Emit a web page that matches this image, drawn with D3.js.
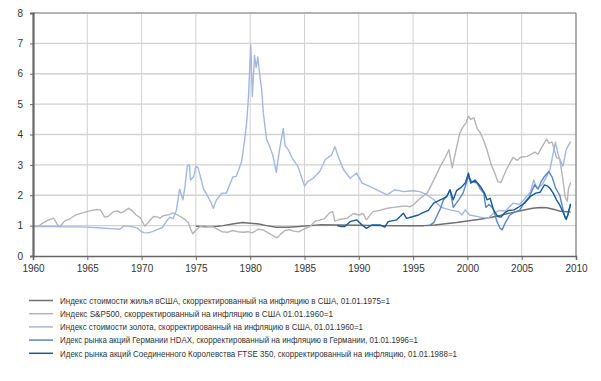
<!DOCTYPE html>
<html><head><meta charset="utf-8">
<script src="https://cdn.jsdelivr.net/npm/d3@7"></script>
<style>body{margin:0;background:#fff}svg{display:block}text{font-family:"Liberation Sans",Arial,sans-serif}</style>
</head><body><svg id="c" width="601" height="381"></svg>
<script>
const yTicks=[0,1,2,3,4,5,6,7,8];
const xTicks=[1960,1965,1970,1975,1980,1985,1990,1995,2000,2005,2010];
const seriesNames=[
"Индекс стоимости жилья вСША, скорректированный на инфляцию в США,  01.01.1975=1",
"Индекс S&P500, скорректированный на инфляцию в США   01.01.1960=1",
"Индекс стоимости золота, скорректированный на инфляцию  в США, 01.01.1960=1",
"Идекс рынка акций Германии HDAX, скорректированный на инфляцию в Германии,  01.01.1996=1",
"Идекс рынка акций Соединенного Королевства FTSE 350, скорректированный на инфляцию,  01.01.1988=1"];
const seriesColors=["#6f6f6f","#b5b5b5","#a3b8de","#5d86c4","#165a9a"];
const housing=[[1975.0,0.98],[1976.0,0.96],[1977.0,0.98],[1977.5,1.0],[1978.5,1.06],[1979.3,1.1],[1980.0,1.08],[1980.8,1.05],[1981.5,1.0],[1982.4,0.95],[1983.5,0.95],[1984.5,0.97],[1985.5,1.0],[1986.5,1.03],[1988.0,1.02],[1990.0,1.01],[1992.0,1.0],[1994.0,1.0],[1996.0,1.0],[1997.0,1.02],[1998.0,1.06],[1999.0,1.1],[2000.0,1.15],[2001.0,1.2],[2002.0,1.26],[2003.0,1.33],[2004.0,1.42],[2005.0,1.5],[2006.0,1.57],[2006.7,1.6],[2007.3,1.59],[2008.0,1.53],[2008.6,1.47],[2009.5,1.45]];
const sp500=[[1960.0,0.97],[1960.5,0.98],[1960.9,1.08],[1961.4,1.18],[1961.9,1.25],[1962.3,1.0],[1962.5,0.97],[1962.9,1.15],[1963.4,1.22],[1963.7,1.3],[1964.0,1.36],[1964.6,1.42],[1965.0,1.46],[1965.4,1.5],[1965.9,1.53],[1966.2,1.52],[1966.6,1.28],[1966.9,1.3],[1967.4,1.46],[1967.8,1.48],[1968.1,1.42],[1968.4,1.47],[1968.8,1.57],[1969.1,1.5],[1969.5,1.35],[1969.9,1.25],[1970.3,0.98],[1970.6,1.1],[1971.1,1.3],[1971.5,1.28],[1971.7,1.24],[1972.0,1.33],[1972.5,1.36],[1972.9,1.42],[1973.3,1.35],[1973.7,1.27],[1974.0,1.2],[1974.3,1.1],[1974.5,0.9],[1974.7,0.73],[1975.0,0.85],[1975.3,0.95],[1975.7,1.0],[1976.2,0.97],[1976.6,0.96],[1977.0,0.88],[1977.4,0.8],[1977.9,0.78],[1978.4,0.84],[1978.8,0.8],[1979.4,0.78],[1979.8,0.8],[1980.2,0.76],[1980.7,0.88],[1981.2,0.86],[1981.7,0.75],[1982.2,0.65],[1982.5,0.6],[1982.8,0.72],[1983.2,0.84],[1983.6,0.87],[1984.0,0.82],[1984.5,0.8],[1984.9,0.88],[1985.5,0.97],[1986.0,1.15],[1986.4,1.18],[1986.8,1.22],[1987.3,1.42],[1987.6,1.46],[1987.8,1.15],[1988.2,1.2],[1988.9,1.24],[1989.5,1.4],[1990.0,1.35],[1990.4,1.4],[1990.7,1.19],[1991.3,1.46],[1991.9,1.5],[1992.6,1.57],[1993.2,1.6],[1993.8,1.63],[1994.3,1.65],[1994.7,1.62],[1995.0,1.68],[1995.5,1.85],[1996.0,2.0],[1996.3,2.07],[1996.9,2.5],[1997.5,2.95],[1997.9,3.2],[1998.3,3.5],[1998.6,2.9],[1998.9,3.4],[1999.3,4.05],[1999.6,4.25],[1999.9,4.4],[2000.1,4.6],[2000.3,4.5],[2000.6,4.55],[2000.9,4.2],[2001.2,4.05],[2001.5,3.8],[2001.8,3.5],[2002.2,3.0],[2002.5,2.75],[2002.8,2.45],[2003.1,2.42],[2003.3,2.6],[2003.6,2.85],[2003.9,3.05],[2004.2,3.25],[2004.6,3.15],[2004.9,3.25],[2005.5,3.28],[2005.9,3.35],[2006.2,3.42],[2006.5,3.35],[2006.8,3.55],[2007.3,3.85],[2007.5,3.72],[2007.8,3.75],[2008.0,3.5],[2008.2,3.25],[2008.5,3.2],[2008.8,2.5],[2009.0,1.95],[2009.2,1.8],[2009.3,2.2],[2009.5,2.42]];
const gold=[[1960.0,0.97],[1962.0,0.97],[1963.0,0.96],[1964.0,0.96],[1965.0,0.95],[1966.0,0.93],[1967.1,0.9],[1968.0,0.88],[1968.3,0.97],[1968.5,0.99],[1969.2,0.96],[1969.6,0.92],[1969.9,0.82],[1970.2,0.77],[1970.6,0.76],[1971.0,0.8],[1971.4,0.87],[1971.9,0.93],[1972.3,1.15],[1972.6,1.28],[1972.9,1.23],[1973.2,1.5],[1973.5,2.2],[1973.8,1.85],[1974.0,2.3],[1974.2,2.95],[1974.4,3.0],[1974.5,2.5],[1974.8,2.62],[1975.0,2.95],[1975.2,2.9],[1975.5,2.5],[1975.7,2.2],[1976.1,1.96],[1976.4,1.75],[1976.6,1.57],[1976.9,1.85],[1977.4,2.07],[1977.8,2.07],[1978.1,2.34],[1978.4,2.6],[1978.7,2.62],[1978.9,2.8],[1979.2,3.1],[1979.5,3.85],[1979.7,4.5],[1979.85,5.3],[1980.05,6.95],[1980.2,5.25],[1980.4,6.6],[1980.55,6.2],[1980.7,6.55],[1980.9,5.9],[1981.05,5.5],[1981.2,4.75],[1981.5,3.85],[1981.8,3.6],[1982.1,3.3],[1982.4,2.75],[1982.7,3.5],[1983.05,4.2],[1983.2,3.65],[1983.5,3.5],[1983.9,3.2],[1984.4,2.95],[1985.0,2.3],[1985.3,2.45],[1985.8,2.56],[1986.4,2.78],[1986.9,3.17],[1987.5,3.33],[1987.8,3.6],[1988.1,3.28],[1988.6,2.84],[1989.2,2.56],[1989.8,2.73],[1990.3,2.4],[1991.0,2.29],[1992.0,2.12],[1992.6,2.01],[1993.3,2.18],[1994.1,2.12],[1995.0,2.15],[1995.6,2.12],[1996.3,2.01],[1996.9,1.85],[1997.5,1.63],[1997.9,1.57],[1998.4,1.52],[1999.2,1.46],[1999.5,1.35],[1999.8,1.52],[2000.2,1.35],[2001.2,1.28],[2001.9,1.24],[2002.4,1.41],[2003.0,1.5],[2003.5,1.48],[2004.2,1.74],[2004.8,1.7],[2005.2,1.85],[2005.8,2.1],[2006.1,2.5],[2006.4,2.23],[2006.9,2.35],[2007.3,2.62],[2007.6,2.84],[2008.1,3.75],[2008.4,3.28],[2008.8,2.95],[2009.1,3.5],[2009.5,3.77]];
const hdax=[[1996.5,1.0],[1996.9,1.1],[1997.3,1.4],[1997.5,1.55],[1997.8,1.85],[1998.1,1.96],[1998.4,2.18],[1998.7,1.6],[1998.9,1.7],[1999.2,1.85],[1999.6,2.07],[2000.1,2.62],[2000.4,2.45],[2000.9,2.4],[2001.2,2.2],[2001.5,2.07],[2001.7,1.6],[2002.0,1.7],[2002.4,1.55],[2002.7,1.15],[2003.0,0.92],[2003.2,0.86],[2003.5,1.1],[2003.9,1.35],[2004.4,1.45],[2004.8,1.5],[2005.2,1.74],[2005.7,1.95],[2006.2,2.35],[2006.5,2.2],[2006.8,2.45],[2007.1,2.62],[2007.5,2.78],[2007.8,2.6],[2008.1,2.25],[2008.5,2.0],[2008.8,1.55],[2009.0,1.25],[2009.2,1.3],[2009.5,1.7]];
const ftse=[[1988.0,1.0],[1988.4,0.97],[1988.7,0.97],[1989.2,1.13],[1989.8,1.19],[1990.3,1.02],[1990.7,0.91],[1991.2,1.02],[1992.0,1.02],[1992.4,0.95],[1992.7,1.13],[1993.5,1.19],[1994.1,1.41],[1994.4,1.24],[1995.0,1.3],[1995.5,1.35],[1995.8,1.41],[1996.4,1.5],[1996.9,1.74],[1997.5,1.85],[1997.8,1.9],[1998.1,1.96],[1998.4,2.18],[1998.7,1.85],[1999.0,2.15],[1999.4,2.25],[1999.8,2.4],[2000.1,2.73],[2000.3,2.4],[2000.7,2.5],[2001.2,2.29],[2001.6,2.05],[2001.8,1.85],[2002.1,1.9],[2002.4,1.52],[2002.8,1.3],[2003.1,1.28],[2003.4,1.41],[2003.8,1.5],[2004.3,1.52],[2004.8,1.63],[2005.3,1.75],[2005.8,1.96],[2006.3,2.07],[2006.7,2.1],[2007.1,2.34],[2007.4,2.3],[2007.6,2.23],[2007.9,2.07],[2008.2,1.85],[2008.5,1.68],[2008.8,1.45],[2009.1,1.2],[2009.25,1.35],[2009.5,1.72]];
const allSeries=[housing,sp500,gold,hdax,ftse];
const legendWidths=[330,273,303,358,397];

const svg=d3.select("#c");
const L=33,R=576,T=13,B=256;
const x=d3.scaleLinear().domain([1960,2010]).range([L,R]);
const y=d3.scaleLinear().domain([0,8]).range([B,T]);

// grid
svg.append("g").selectAll("line").data(yTicks.slice(1)).join("line")
  .attr("x1",L).attr("x2",R).attr("y1",d=>y(d)).attr("y2",d=>y(d))
  .attr("stroke","#d2d2d2").attr("stroke-width",1.4);
svg.append("g").selectAll("line").data(xTicks.slice(1,-1)).join("line")
  .attr("x1",d=>x(d)).attr("x2",d=>x(d)).attr("y1",T).attr("y2",B)
  .attr("stroke","#d2d2d2").attr("stroke-width",1);
// frame top/right
svg.append("line").attr("x1",L).attr("x2",R).attr("y1",T).attr("y2",T).attr("stroke","#8a8a8a").attr("stroke-width",1);
svg.append("line").attr("x1",R).attr("x2",R).attr("y1",T).attr("y2",B).attr("stroke","#7a7a7a").attr("stroke-width",1.2);

// lines
const line=d3.line().x(d=>x(d[0])).y(d=>y(d[1]));
allSeries.forEach((s,i)=>{
  svg.append("path").datum(s).attr("d",line).attr("fill","none")
    .attr("stroke",seriesColors[i]).attr("stroke-width",i==0?1.5:1.4).attr("stroke-linejoin","round");
});

// axes
const ax=svg.append("g").attr("transform",`translate(0,${B})`)
  .call(d3.axisBottom(x).tickValues(xTicks).tickFormat(d3.format("d")).tickSize(4).tickPadding(5));
const ay=svg.append("g").attr("transform",`translate(${L},0)`)
  .call(d3.axisLeft(y).tickValues(yTicks).tickSize(3).tickPadding(7));
[ax,ay].forEach(a=>{
  a.select(".domain").attr("stroke","#666");
  a.selectAll(".tick line").attr("stroke","#666");
  a.selectAll("text").attr("fill","#333").style("font-size","10px");
});
ax.select(".domain").attr("stroke-width",1.5);
ay.select(".domain").attr("stroke-width",2.2);

// legend
const lg=svg.append("g");
seriesNames.forEach((n,i)=>{
  const yy=300.5+i*13.2;
  lg.append("line").attr("x1",29).attr("x2",53).attr("y1",yy).attr("y2",yy)
    .attr("stroke",seriesColors[i]).attr("stroke-width",1.5);
  lg.append("text").attr("x",60).attr("y",yy+3.3).text(n)
    .attr("fill","#333").style("font-size","9.5px")
    .attr("textLength",legendWidths[i]).attr("lengthAdjust","spacingAndGlyphs");
});
</script></body></html>
